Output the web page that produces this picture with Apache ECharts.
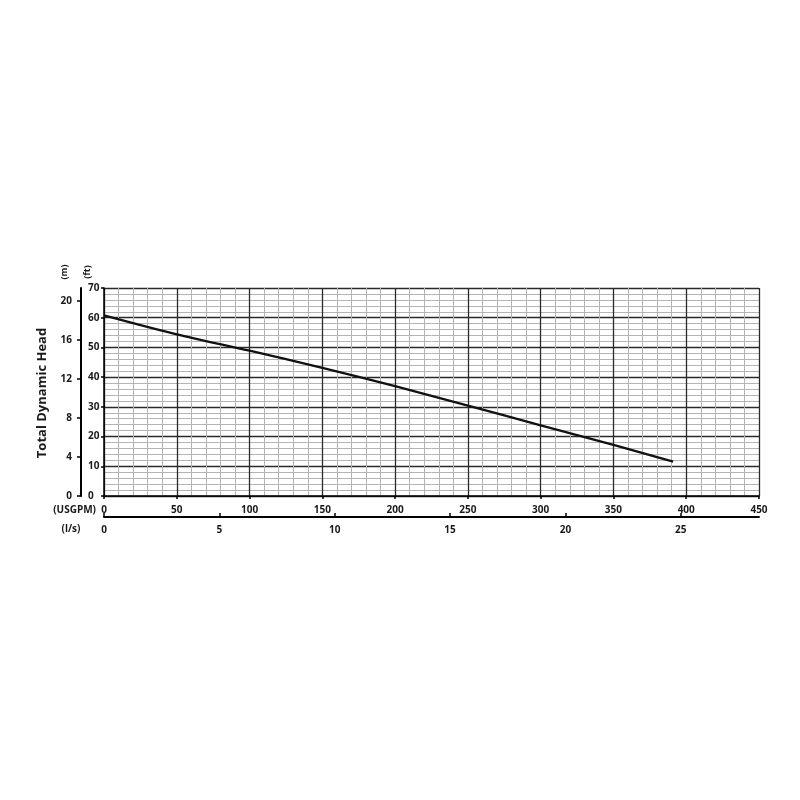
<!DOCTYPE html>
<html>
<head>
    <meta charset="UTF-8">
    <script src="https://cdn.jsdelivr.net/npm/echarts@6/dist/echarts.min.js"></script>
</head>
<body style="margin:0;background:#fff">
<div id="pump" style="width:800px;height:800px"></div>
<script type="text/javascript">
    // pump curve (flow in USGPM, head in ft)
    var flowGpm = [0, 50, 100, 150, 200, 250, 300, 350, 391];
    var headFt = [60.8, 54.4, 48.9, 43.1, 37.0, 30.4, 23.8, 17.2, 11.6];

    var gpmMax = 450;
    var ftMax = 70;
    var lpsLabels = [0, 5, 10, 15, 20, 25];
    var mLabels = [0, 4, 8, 12, 16, 20];

    var GPM_PER_LPS = 15.850;
    var FT_PER_M = 3.28084;

    // fresh objects every time, echarts does not like shared option pieces
    function label(extra) {
        return Object.assign({ fontFamily: 'Open Sans', fontWeight: 'bold', fontSize: 10, color: '#1a1a1a' }, extra);
    }
    function axisLine(w) {
        return { show: true, onZero: false, lineStyle: { color: 'black', width: w } };
    }
    function tick(len, inside, values) {
        var t = { show: true, length: len, inside: inside, lineStyle: { color: 'black', width: 1.5 } };
        if (values) t.customValues = values;
        return t;
    }
    function major() { return { show: true, lineStyle: { color: '#2a2a2a', width: 1.3 } }; }
    function minor() { return { show: true, lineStyle: { color: '#b4b4b4', width: 1 } }; }

    var curve = [];
    for (var i = 0; i < flowGpm.length; i++) {
        curve.push([flowGpm[i], headFt[i]]);
    }

    var myChart = echarts.init(document.getElementById('pump'));
    var option = {
        animation: false,
        grid: [
            { left: 104, top: 288, width: 655, height: 208 },  // main plot
            { left: 104, top: 516, width: 655, height: 1 },    // l/s strip
            { left: 81, top: 288, width: 1, height: 208 }      // metre strip
        ],
        xAxis: [
            {
                gridIndex: 0,
                type: 'value',
                min: 0,
                max: gpmMax,
                interval: 50,
                axisLine: axisLine(1.5),
                axisTick: tick(3, false),
                axisLabel: label({ margin: 9 }),
                splitLine: major(),
                minorTick: { show: false, splitNumber: 5 },
                minorSplitLine: minor()
            },
            {
                gridIndex: 1,
                type: 'value',
                min: 0,
                max: gpmMax / GPM_PER_LPS,
                axisLine: axisLine(2),
                axisTick: tick(4, true, lpsLabels),
                axisLabel: label({ margin: 8, customValues: lpsLabels }),
                splitLine: { show: false }
            },
            { gridIndex: 2, type: 'value', show: false, min: 0, max: 1 }
        ],
        yAxis: [
            {
                gridIndex: 0,
                type: 'value',
                min: 0,
                max: ftMax,
                interval: 10,
                axisLine: axisLine(1.5),
                axisTick: tick(3, false),
                axisLabel: label({ margin: 16, align: 'left' }),
                splitLine: major(),
                minorTick: { show: false, splitNumber: 5 },
                minorSplitLine: minor()
            },
            { gridIndex: 1, type: 'value', show: false, min: 0, max: 1 },
            {
                gridIndex: 2,
                type: 'value',
                min: 0,
                max: ftMax / FT_PER_M,
                axisLine: axisLine(2),
                axisTick: tick(4, false, mLabels),
                axisLabel: label({ margin: 9, customValues: mLabels }),
                splitLine: { show: false }
            }
        ],
        graphic: [
            {
                type: 'text', x: 42, y: 393, rotation: Math.PI / 2,
                style: { text: 'Total Dynamic Head', font: 'bold 13px "Open Sans"', fill: '#1a1a1a', align: 'center', verticalAlign: 'middle' }
            },
            {
                type: 'text', x: 64, y: 272, rotation: Math.PI / 2,
                style: { text: '(m)', font: 'bold 9px "Open Sans"', fill: '#1a1a1a', align: 'center', verticalAlign: 'middle' }
            },
            {
                type: 'text', x: 87, y: 272, rotation: Math.PI / 2,
                style: { text: '(ft)', font: 'bold 9px "Open Sans"', fill: '#1a1a1a', align: 'center', verticalAlign: 'middle' }
            },
            {
                type: 'text', x: 96, y: 510,
                style: { text: '(USGPM)', font: 'bold 10px "Open Sans"', fill: '#1a1a1a', align: 'right', verticalAlign: 'middle' }
            },
            {
                type: 'text', x: 71, y: 529,
                style: { text: '(l/s)', font: 'bold 10px "Open Sans"', fill: '#1a1a1a', align: 'center', verticalAlign: 'middle' }
            }
        ],
        series: [
            {
                type: 'line',
                xAxisIndex: 0,
                yAxisIndex: 0,
                data: curve,
                smooth: 0.3,
                showSymbol: false,
                lineStyle: { color: '#111', width: 2.3 },
                z: 5
            }
        ]
    };
    myChart.setOption(option);
</script>
</body>
</html>
